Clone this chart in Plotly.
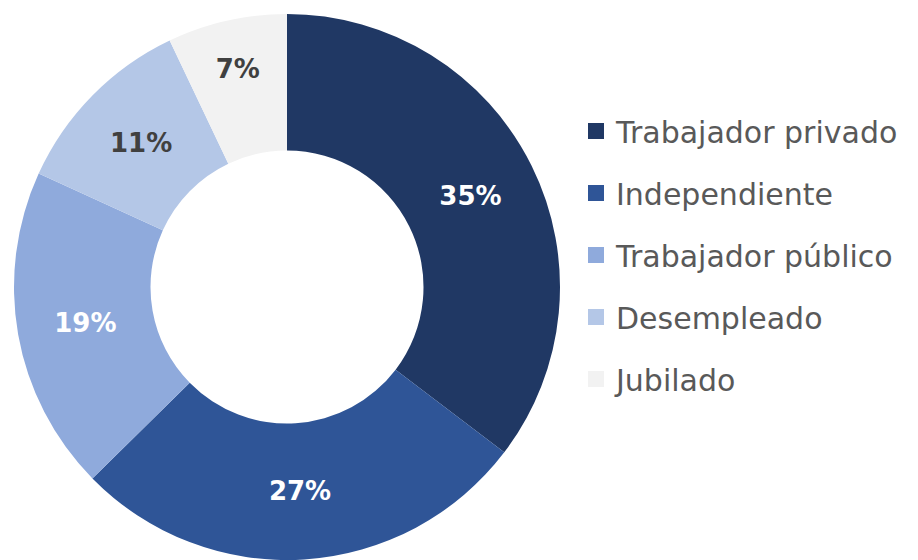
import plotly.graph_objects as go

categories = ["Trabajador privado", "Independiente", "Trabajador público", "Desempleado", "Jubilado"]
values = [35, 27, 19, 11, 7]
colors = ["#203864", "#2F5597", "#8FAADC", "#B4C7E7", "#F2F2F2"]
text_colors = ["#FFFFFF", "#FFFFFF", "#FFFFFF", "#404040", "#404040"]

W, H = 918, 560
FONT = "DejaVu Sans"

fig = go.Figure()
fig.add_trace(go.Pie(
    labels=categories, values=values, sort=False, direction="clockwise", rotation=0,
    hole=0.5, marker=dict(colors=colors, line=dict(width=0)),
    texttemplate="%{percent:.0%}", textposition="inside",
    insidetextorientation="horizontal",
    insidetextfont=dict(family=FONT, size=26, color=text_colors, weight="bold"),
    showlegend=False,
    domain=dict(x=[4 / W, 554 / W], y=[8 / H, 554 / H]),
))
for i, (c, col) in enumerate(zip(categories, colors)):
    fig.add_trace(go.Scatter(
        x=[None], y=[None], mode="markers", name=c, legendgroup=f"g{i}",
        marker=dict(symbol="square", size=18, color=col),
    ))

fig.update_layout(
    width=W, height=H, margin=dict(l=0, r=0, t=0, b=0),
    paper_bgcolor="white", plot_bgcolor="white",
    xaxis=dict(visible=False), yaxis=dict(visible=False),
    legend=dict(x=568 / W, xanchor="left", y=1 - 97 / H, yanchor="top",
                font=dict(family=FONT, size=30, color="#595959"),
                tracegroupgap=20, itemwidth=30, bgcolor="rgba(0,0,0,0)"),
)
fig.write_html("out.html")
